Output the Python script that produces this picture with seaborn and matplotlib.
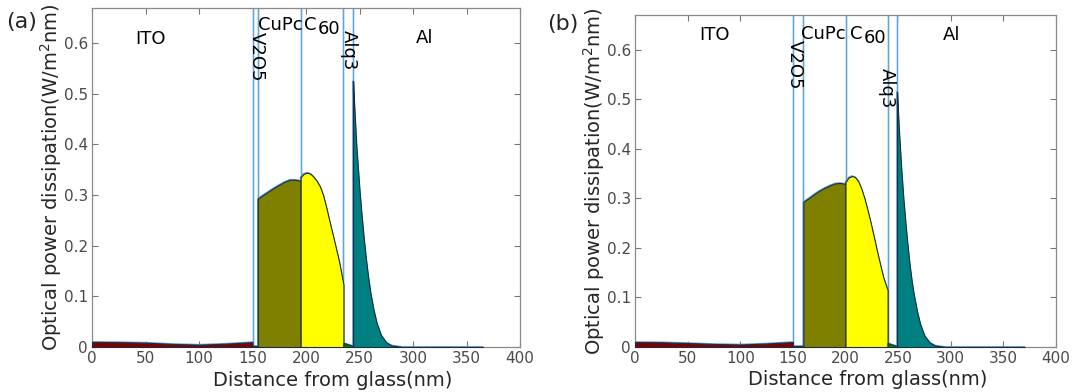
import numpy as np
import pandas as pd
import matplotlib
matplotlib.use("Agg")
import matplotlib.pyplot as plt
import seaborn as sns

# ---------------- data ----------------
# panel (a)
ito_x_a = [0, 25, 50, 75, 100, 125, 150]
ito_y_a = [0.010, 0.0095, 0.0085, 0.006, 0.0045, 0.0065, 0.0095]
v2o5_x_a = [150, 155]
v2o5_y_a = [0.002, 0.002]
cupc_x_a = [155, 160, 165, 170, 175, 180, 185, 190, 195]
cupc_y_a = [0.293, 0.300, 0.307, 0.314, 0.320, 0.326, 0.330, 0.330, 0.328]
c60_x_a = [195, 198, 201, 204, 207, 210, 213, 216, 219, 222, 225, 228, 231, 235]
c60_y_a = [0.335, 0.342, 0.344, 0.342, 0.336, 0.328, 0.317, 0.300, 0.275, 0.248,
           0.222, 0.195, 0.168, 0.123]
alq3_x_a = [235, 238, 241, 244]
alq3_y_a = [0.008, 0.006, 0.004, 0.002]
al_x_a = [244, 245, 246, 247, 248, 250, 252, 254, 256, 258, 260, 263, 266, 270,
          275, 280, 290, 365]
al_y_a = [0.525, 0.48, 0.44, 0.40, 0.37, 0.31, 0.26, 0.215, 0.175, 0.14, 0.11,
          0.075, 0.048, 0.024, 0.009, 0.003, 0.0, 0.0]
bounds_a = [150, 155, 195, 235, 244]

# panel (b)
ito_x_b = [0, 25, 50, 75, 100, 125, 150]
ito_y_b = [0.010, 0.0095, 0.008, 0.006, 0.005, 0.007, 0.010]
v2o5_x_b = [150, 160]
v2o5_y_b = [0.002, 0.002]
cupc_x_b = [160, 165, 170, 175, 180, 185, 190, 195, 200]
cupc_y_b = [0.293, 0.300, 0.308, 0.315, 0.321, 0.326, 0.330, 0.331, 0.329]
c60_x_b = [200, 203, 206, 209, 212, 215, 218, 221, 224, 227, 230, 233, 236, 240]
c60_y_b = [0.333, 0.342, 0.345, 0.343, 0.335, 0.320, 0.300, 0.276, 0.250, 0.222,
           0.193, 0.166, 0.140, 0.115]
alq3_x_b = [240, 244, 249]
alq3_y_b = [0.008, 0.005, 0.002]
al_x_b = [249, 250, 251, 252, 253, 255, 257, 259, 261, 263, 265, 268, 271, 275,
          280, 285, 295, 370]
al_y_b = [0.515, 0.47, 0.43, 0.395, 0.36, 0.30, 0.25, 0.205, 0.165, 0.132, 0.105,
          0.072, 0.046, 0.023, 0.009, 0.003, 0.0, 0.0]
bounds_b = [150, 160, 200, 240, 249]

layer_colors = ["#800000", "#c000c0", "#808000", "#ffff00", "#008000", "#008080"]
x_ticks = [0, 50, 100, 150, 200, 250, 300, 350, 400]
y_ticks = [0, 0.1, 0.2, 0.3, 0.4, 0.5, 0.6]
y_ticklabels = ["0", "0.1", "0.2", "0.3", "0.4", "0.5", "0.6"]

# ---------------- style ----------------
sns.set_style("white")
plt.rcParams["font.family"] = ["DejaVu Sans"]

fig = plt.figure(figsize=(10.72, 3.92), dpi=100)
ax_a = fig.add_axes([92 / 1072, 45 / 392, 428 / 1072, 339.5 / 392])
ax_b = fig.add_axes([635 / 1072, 45 / 392, 421 / 1072, 332 / 392])


def draw(ax, layers, bounds, texts, xlab_pos):
    for b in bounds:
        ax.axvline(b, color="#c6e0f4", lw=2.0, zorder=1.5)
        ax.axvline(b, color="#5fa4d8", lw=0.7, zorder=1.6)
    xs, ys = [], []
    for lx, ly in layers:
        xs += list(lx)
        ys += list(ly)
    df = pd.DataFrame({"x": xs, "y": ys})
    sns.lineplot(data=df, x="x", y="y", ax=ax, color="#5b9bd5", lw=1.2,
                 sort=False, estimator=None, zorder=2)
    for (lx, ly), col in zip(layers, layer_colors):
        ax.fill_between(lx, 0, ly, facecolor=col, edgecolor="#1c2e3e",
                        lw=0.8, zorder=3)
    for (tx, ty, s, rot) in texts:
        ax.text(tx, ty, s, rotation=rot, ha="center", va="center",
                fontsize=13, color="black", zorder=5)
    ax.set_xlim(0, 400)
    ax.set_ylim(0, 0.67)
    ax.set_xticks(x_ticks)
    ax.set_yticks(y_ticks)
    ax.set_yticklabels(y_ticklabels)
    ax.tick_params(direction="in", length=4, width=0.8, colors="#777777",
                   labelcolor="#4a4a4a", labelsize=11, top=True, right=True,
                   bottom=True, left=True, pad=3)
    for sp in ax.spines.values():
        sp.set_color("#8a8a8a")
        sp.set_linewidth(0.9)
    ax.set_xlabel("Distance from glass(nm)", fontsize=14, color="#262626", labelpad=0)
    ax.xaxis.set_label_coords(xlab_pos, -0.07)
    ax.set_ylabel("Optical power dissipation(W/m$^2$nm)", fontsize=14,
                  color="#262626", labelpad=0)


layers_a = [(ito_x_a, ito_y_a), (v2o5_x_a, v2o5_y_a), (cupc_x_a, cupc_y_a),
            (c60_x_a, c60_y_a), (alq3_x_a, alq3_y_a), (al_x_a, al_y_a)]
texts_a = [(55, 0.608, "ITO", 0), (311, 0.61, "Al", 0),
           (176, 0.636, "CuPc", 0), (204, 0.635, "C", 0), (221.5, 0.627, "60", 0),
           (153.7, 0.573, "V2O5", -90), (240.5, 0.586, "Alq3", -90)]
draw(ax_a, layers_a, bounds_a, texts_a, 0.563)

layers_b = [(ito_x_b, ito_y_b), (v2o5_x_b, v2o5_y_b), (cupc_x_b, cupc_y_b),
            (c60_x_b, c60_y_b), (alq3_x_b, alq3_y_b), (al_x_b, al_y_b)]
texts_b = [(76, 0.63, "ITO", 0), (301, 0.63, "Al", 0),
           (178.8, 0.632, "CuPc", 0), (210.5, 0.632, "C", 0), (228.5, 0.624, "60", 0),
           (152, 0.57, "V2O5", -90), (239.6, 0.523, "Alq3", -90)]
draw(ax_b, layers_b, bounds_b, texts_b, 0.553)

fig.text(22 / 1072, 1 - 22 / 392, "(a)", fontsize=16, ha="center", va="center")
fig.text(563 / 1072, 1 - 24 / 392, "(b)", fontsize=16, ha="center", va="center")

fig.savefig("out.png", dpi=100)
